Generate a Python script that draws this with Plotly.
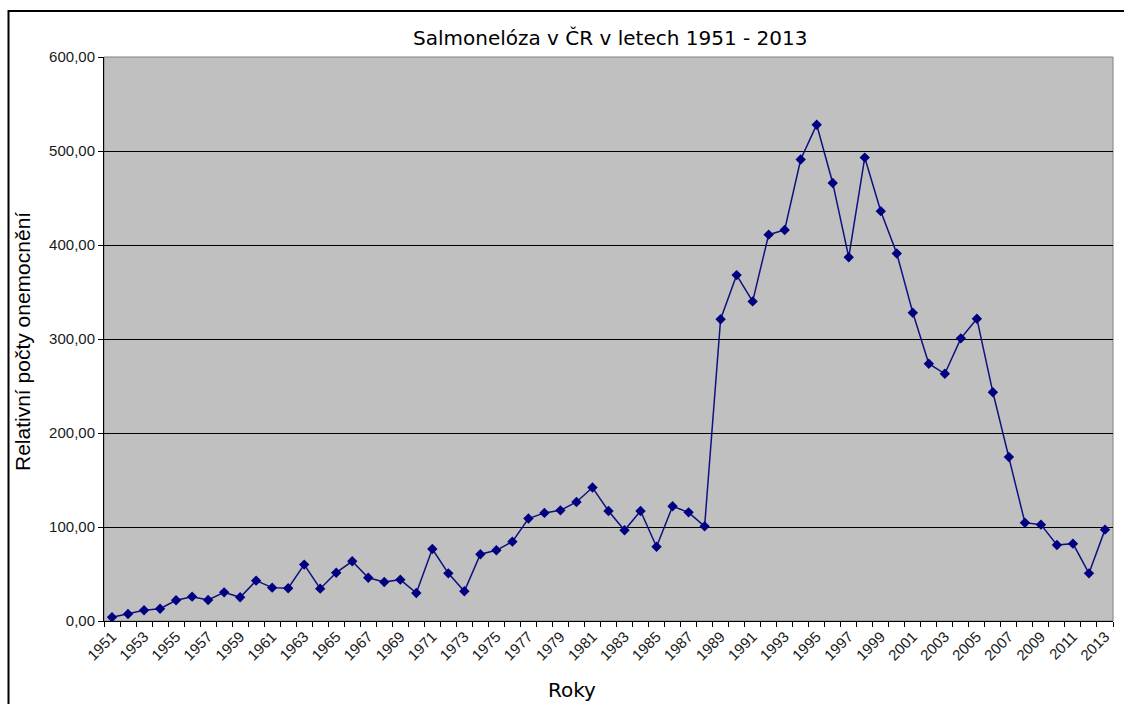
import plotly.graph_objects as go

years = list(range(1951, 2014))
values = [4.0, 7.5, 11.4, 13.0, 22.0, 25.9, 22.3, 30.5, 25.2, 42.9,
          35.5, 34.8, 60.0, 34.4, 51.4, 63.5, 46.0, 41.5, 44.0, 29.8,
          76.6, 50.7, 31.6, 71.0, 75.2, 84.4, 109.0, 115.0, 117.7, 126.6,
          142.0, 117.0, 96.5, 117.0, 79.0, 122.0, 115.6, 100.7, 321.0, 368.0,
          340.0, 411.0, 416.0, 491.0, 528.0, 466.0, 387.0, 493.0, 436.0, 391.0,
          328.0, 273.7, 263.0, 300.7, 321.6, 243.3, 174.5, 104.6, 102.5, 80.9,
          82.3, 50.7, 97.2]
x_labels = [str(y) for y in years[::2]]
y_ticks = [0, 100, 200, 300, 400, 500, 600]
y_labels = ["0,00", "100,00", "200,00", "300,00", "400,00", "500,00", "600,00"]

title_text = "Salmonelóza v ČR v letech 1951 - 2013"
x_title = "Roky"
y_title = "Relativní počty onemocnění"

W, H = 1124, 704
L, R, T, B = 104, 11, 57, 83
pw, ph = W - L - R, H - T - B


def px_x(p):
    return (p - L) / pw


def px_y(p):
    return 1 - (p - T) / ph


fig = go.Figure()
fig.add_trace(go.Scatter(
    x=years, y=values, mode="lines+markers",
    line=dict(color="#10107f", width=1.5),
    marker=dict(symbol="diamond", size=8, color="#000080"),
    showlegend=False, hoverinfo="skip"))

fig.update_layout(
    width=W, height=H,
    margin=dict(l=L, r=R, t=T, b=B, autoexpand=False),
    paper_bgcolor="white", plot_bgcolor="#C0C0C0",
    font=dict(family="Liberation Sans, Arial, sans-serif", color="#1a1a1a"),
    xaxis=dict(
        range=[years[0] - 0.5, years[-1] + 0.5],
        tickmode="array", tickvals=years[::2], ticktext=x_labels,
        tickangle=-45, ticks="", tickfont=dict(size=15, color="#1a1a1a"),
        showgrid=False, zeroline=False,
        showline=True, linecolor="#000000", linewidth=1,
        minor=dict(tick0=years[0] - 0.5, dtick=1, ticks="outside", ticklen=5,
                   tickcolor="#000000", showgrid=False),
    ),
    yaxis=dict(
        range=[0, 600], tickmode="array", tickvals=y_ticks, ticktext=y_labels,
        ticks="outside", ticklen=5, tickcolor="#000000",
        tickfont=dict(size=15, color="#1a1a1a"),
        showgrid=True, gridcolor="#000000", gridwidth=1, zeroline=False,
        showline=True, linecolor="#000000", linewidth=1,
    ),
    annotations=[
        dict(text=title_text, xref="paper", yref="paper", x=px_x(610), y=px_y(38),
             xanchor="center", yanchor="middle", showarrow=False,
             font=dict(family="DejaVu Sans, Verdana, sans-serif", size=20, color="#000000")),
        dict(text=x_title, xref="paper", yref="paper", x=px_x(572), y=px_y(690),
             xanchor="center", yanchor="middle", showarrow=False,
             font=dict(family="DejaVu Sans, Verdana, sans-serif", size=20, color="#000000")),
        dict(text=y_title, xref="paper", yref="paper", x=px_x(22), y=px_y(342),
             xanchor="center", yanchor="middle", showarrow=False, textangle=-90,
             font=dict(size=21, color="#000000")),
    ],
    shapes=[
        dict(type="rect", xref="paper", yref="paper", x0=0, x1=1, y0=0, y1=1,
             line=dict(color="#808080", width=1), layer="below"),
        dict(type="rect", xref="paper", yref="paper",
             x0=px_x(8.5), x1=px_x(W + 10), y0=px_y(H + 10), y1=px_y(11),
             line=dict(color="#000000", width=2)),
    ],
)

fig.write_html(
    "out.html",
    config={"displayModeBar": False},
    post_script="document.body.style.margin='0';document.body.style.overflow='hidden';",
)
